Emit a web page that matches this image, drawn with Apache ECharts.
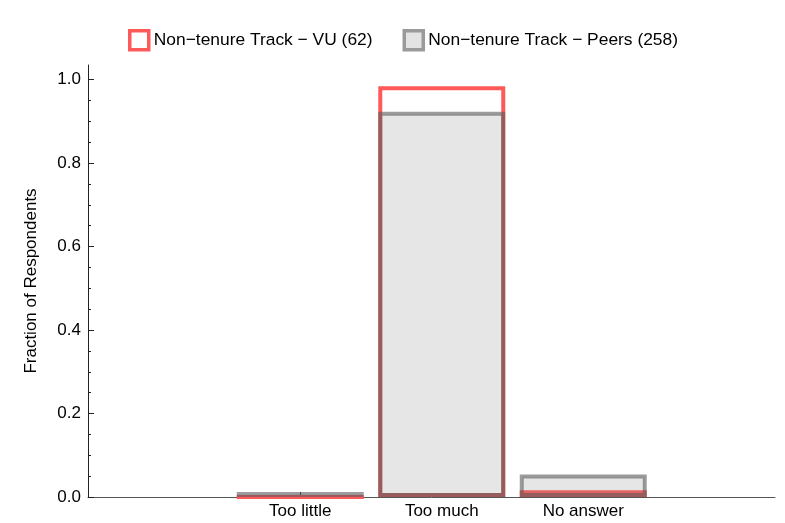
<!DOCTYPE html>
<html>
<head>
<meta charset="utf-8">
<script src="https://cdn.jsdelivr.net/npm/echarts@6/dist/echarts.min.js"></script>
<style>html,body{margin:0;padding:0;background:#fff}#c{width:785px;height:523px}</style>
</head>
<body>
<div id="c"></div>
<script>
var categories = ['Too little', 'Too much', 'No answer'];
var seriesNames = ['Non\u2212tenure Track \u2212 VU (62)', 'Non\u2212tenure Track \u2212 Peers (258)'];
var vuValues = [0.0, 0.984, 0.016];
var peerValues = [0.012, 0.923, 0.054];
var yTicks = [0, 0.2, 0.4, 0.6, 0.8, 1.0];

var font = 'Liberation Sans, Arial, sans-serif';
var chart = echarts.init(document.getElementById('c'), null, {renderer: 'canvas'});

function toPoints(vals) {
  return vals.map(function (v, i) { return [i + 1, v]; });
}

chart.setOption({
  animation: false,
  textStyle: {fontFamily: font},
  grid: {left: 88, right: 10, top: 65, bottom: 26, containLabel: false},
  legend: {
    top: 24,
    left: 123,
    itemWidth: 19,
    itemHeight: 19,
    itemGap: 30,
    textStyle: {fontSize: 17.4, color: '#000', fontFamily: font},
    data: [
      {name: seriesNames[0], icon: 'rect', itemStyle: {color: '#ffffff', borderColor: '#ff5a5a', borderWidth: 3.5}},
      {name: seriesNames[1], icon: 'rect', itemStyle: {color: '#e3e3e3', borderColor: '#9a9a9a', borderWidth: 3.5}}
    ]
  },
  xAxis: {
    type: 'value',
    min: -0.5,
    max: 4.355,
    splitLine: {show: false},
    axisLine: {show: true, onZero: false, lineStyle: {color: '#555', width: 1}},
    axisTick: {show: true, inside: true, length: 5, customValues: [1, 2, 3], lineStyle: {color: '#222'}},
    axisLabel: {
      customValues: [1, 2, 3],
      fontSize: 17, color: '#000', margin: 6, fontFamily: font,
      formatter: function (v) { return categories[Math.round(v) - 1] || ''; }
    }
  },
  yAxis: {
    type: 'value',
    min: 0,
    max: 1.035,
    interval: 0.2,
    name: 'Fraction of Respondents',
    nameLocation: 'middle',
    nameGap: 48,
    nameTextStyle: {fontSize: 17, color: '#000', fontFamily: font},
    splitLine: {show: false},
    axisLine: {show: true, onZero: false, lineStyle: {color: '#222', width: 1}},
    axisTick: {show: true, inside: true, length: 6, customValues: yTicks, lineStyle: {color: '#222'}},
    minorTick: {show: true, splitNumber: 4, length: 3, lineStyle: {color: '#222'}},
    axisLabel: {
      customValues: yTicks,
      fontSize: 17, color: '#000', margin: 7, fontFamily: font,
      formatter: function (v) { return v.toFixed(1); }
    }
  },
  series: [
    {
      name: seriesNames[0],
      type: 'bar',
      barWidth: 127,
      barGap: '-100%',
      data: toPoints(vuValues),
      itemStyle: {color: '#ffffff', borderColor: '#ff5a5a', borderWidth: 4},
      z: 2
    },
    {
      name: seriesNames[1],
      type: 'bar',
      barWidth: 127,
      barGap: '-100%',
      data: toPoints(peerValues),
      itemStyle: {color: 'rgba(128,128,128,0.2)', borderColor: 'rgba(90,90,90,0.6)', borderWidth: 4},
      z: 3
    }
  ]
});
</script>
</body>
</html>
